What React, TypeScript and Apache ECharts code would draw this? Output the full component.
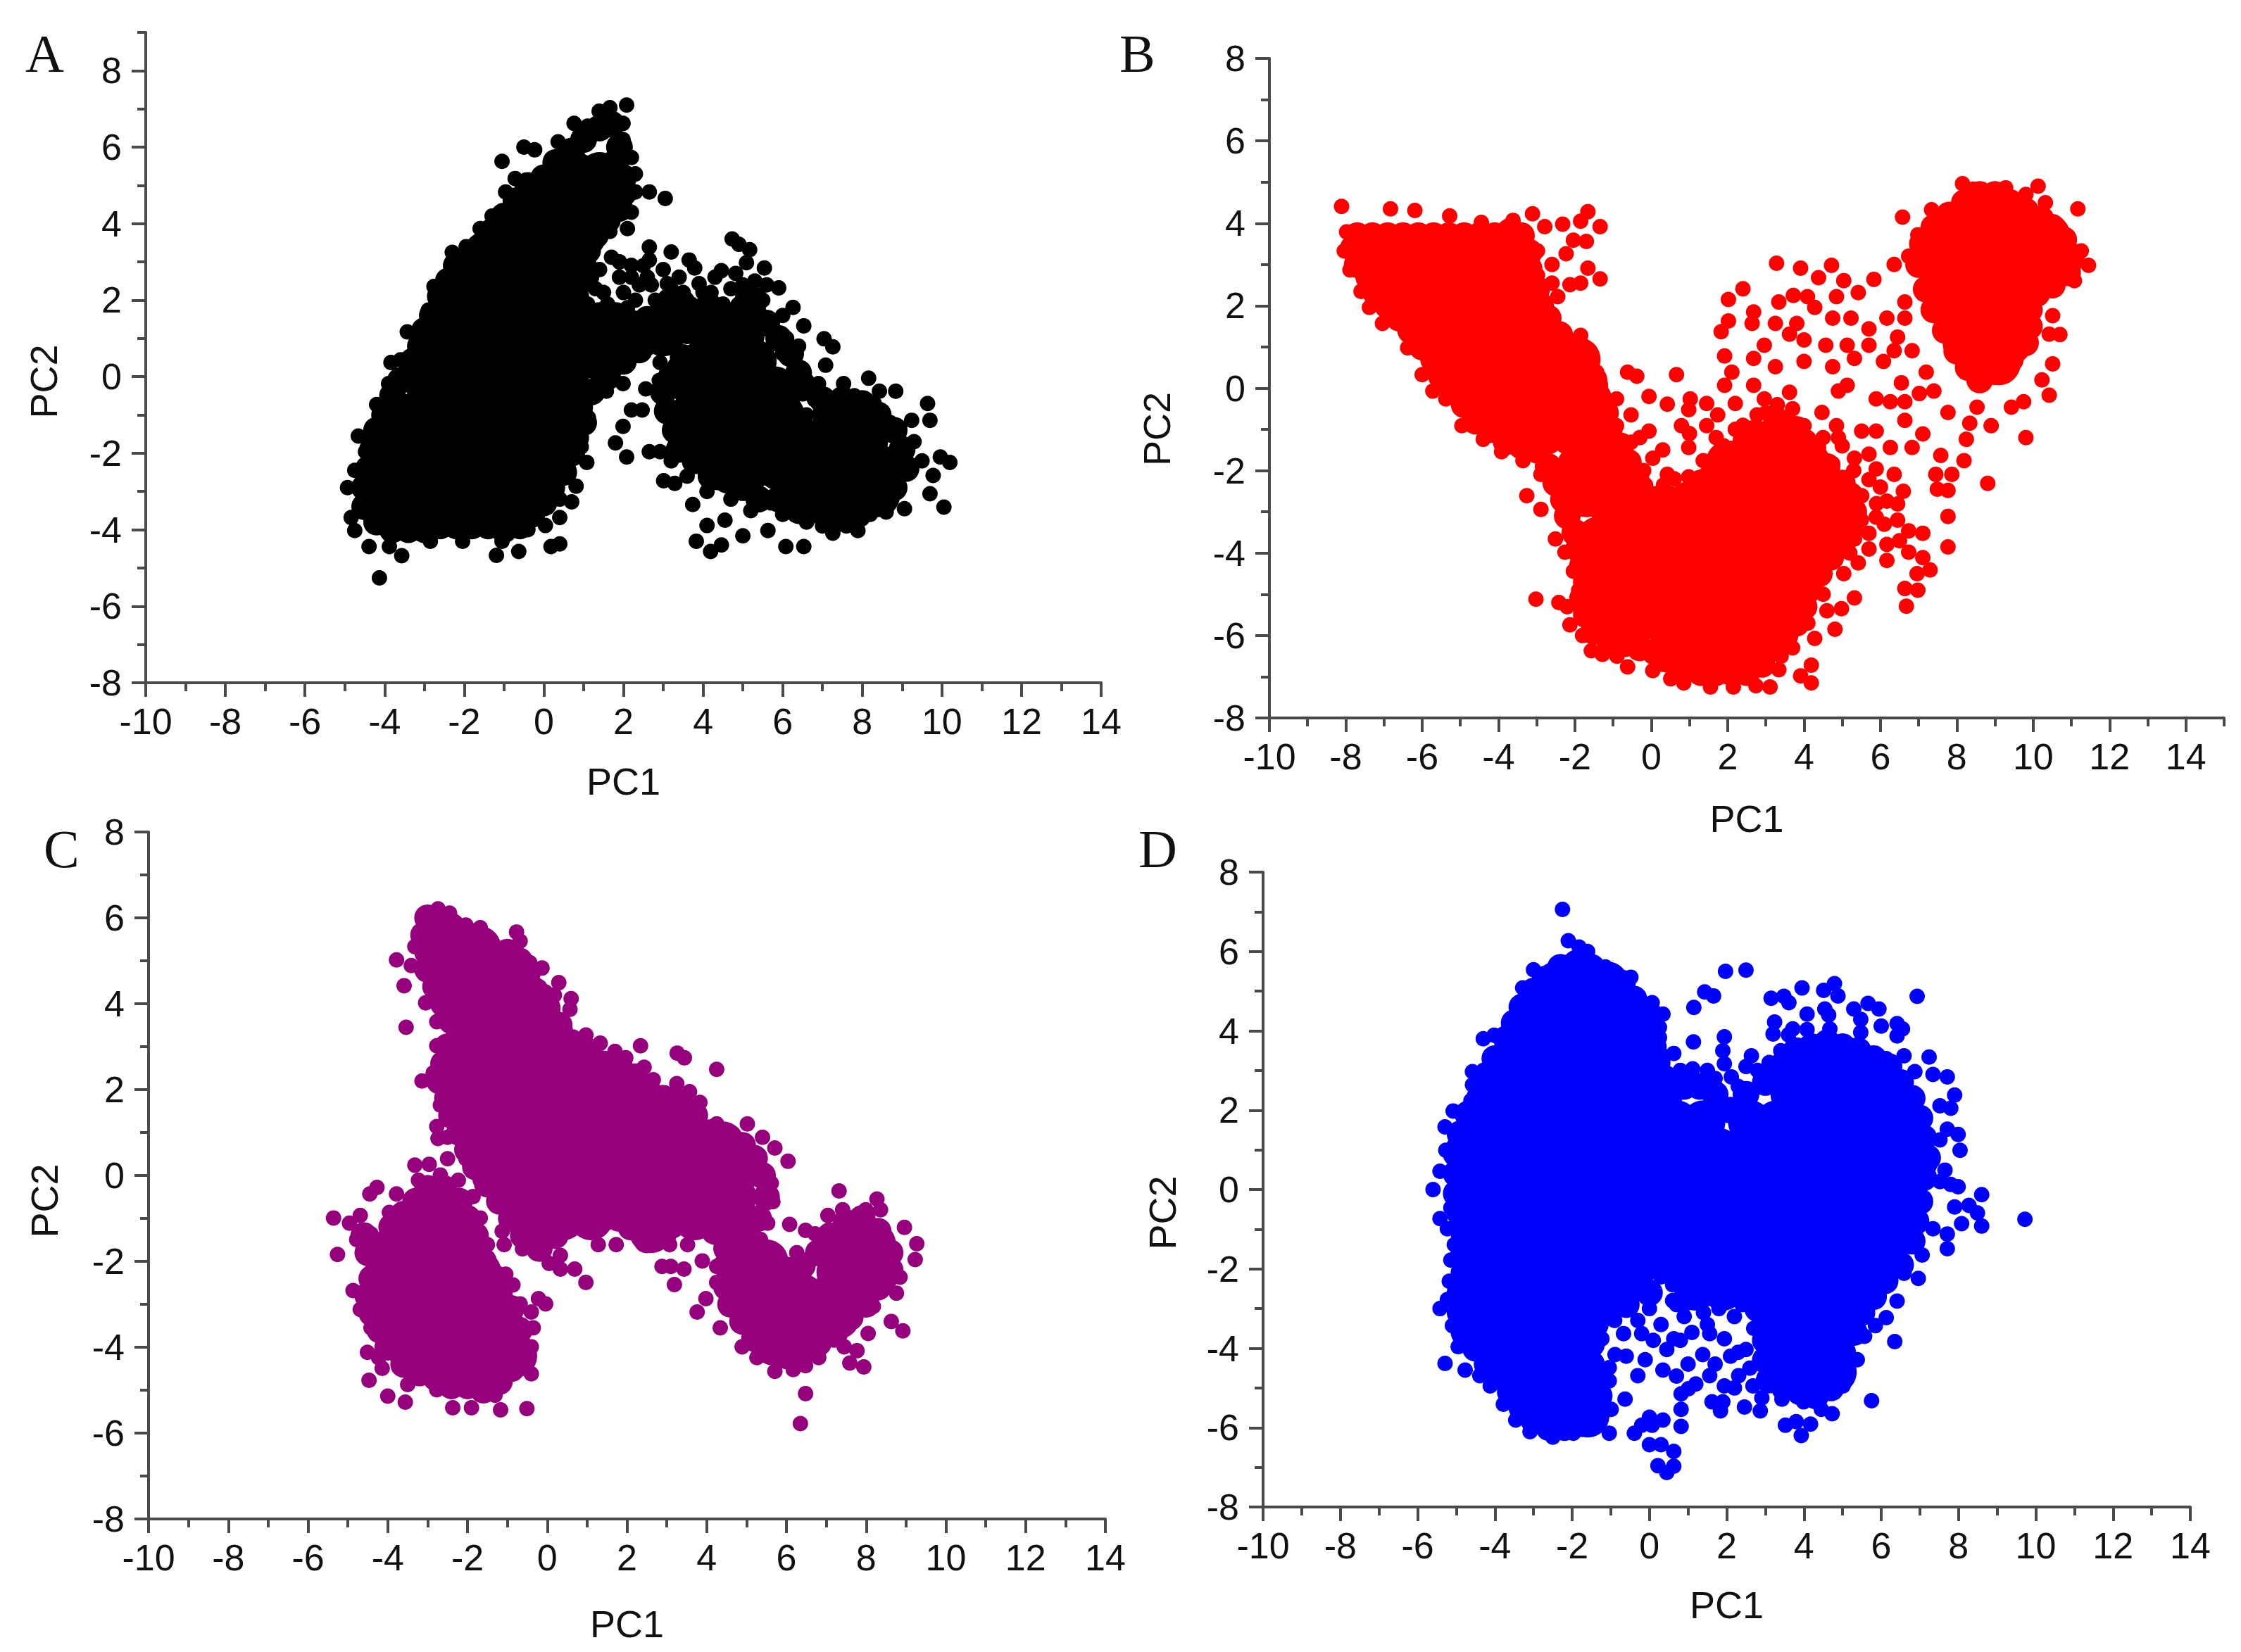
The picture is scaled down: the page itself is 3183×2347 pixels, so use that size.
import React, { useEffect, useRef } from "react";
import * as echarts from "echarts";

const FONT = "Liberation Sans";
const majorX = [-10, -8, -6, -4, -2, 0, 2, 4, 6, 8, 10, 12, 14];
const minorX = [-9, -7, -5, -3, -1, 1, 3, 5, 7, 9, 11, 13];
const minorXB = [-9, -7, -5, -3, -1, 1, 3, 5, 7, 9, 11, 13, 15];
const majorY = [-8, -6, -4, -2, 0, 2, 4, 6, 8];
const minorY = [-7, -5, -3, -1, 1, 3, 5, 7];
const minorYA = [-7, -5, -3, -1, 1, 3, 5, 7, 9];

type Row = [number, number[]];
const aDense: Row[] = [
  [5.3, [0.8, 1.4]], [4.6, [-0.2, 0.5, 1.2, 1.5]], [3.9, [-0.7, 0, 0.7, 1]], [3.2, [-1.3, -0.6, 0.1, 0.6]],
  [2.5, [-1.8, -1.1, -0.4, 0.3]], [1.8, [-2.1, -1.4, -0.7, 0, 0.5, 3.3]], [1.1, [-2.4, -1.7, -1, -0.3, 0.4, 1.1, 1.8, 2.5, 3, 4.2, 5]],
  [0.4, [-2.7, -2, -1.3, -0.6, 0.1, 0.8, 1.5, 4, 4.7, 5.3]], [-0.3, [-2.9, -2.2, -1.5, -0.8, -0.1, 0.6, 3.8, 4.5, 5.2, 5.8]],
  [-1, [-3.3, -2.6, -1.9, -1.2, -0.5, 0.2, 3.7, 4.4, 5.2, 6, 7.3, 8]], [-1.7, [-3.7, -3, -2.3, -1.6, -0.9, -0.2, 0.1, 3.8, 4.6, 5.3, 6, 6.7, 7.4, 8.1]],
  [-2.4, [-4, -3.3, -2.6, -1.9, -1.2, -0.5, 0, 4.4, 5.2, 5.9, 6.6, 7.3, 8, 8.6]], [-3.1, [-4.1, -3.4, -2.7, -2, -1.3, -0.6, 6.4, 7.1, 7.8, 8.4]],
  [-3.5, [-3.9, -3.2, -2.5, -1.8, -1.1]],
];
const aEdge = [
  [-4.5,-3.4],[-4.5,-2.9],[-4.4,-2.4],[-4.3,-1.9],[-4.2,-1.4],[-4,-1],[-3.8,-0.5],[-3.6,-0.1],[-3.3,0.4],[-3.1,0.8],[-3,1.2],[-2.8,1.6],[-2.6,2.1],[-2.4,2.5],[-2.2,2.9],[-1.9,3],[-1.6,3.4],[-1.3,3.8],[-1,4.2],[-0.7,4.6],[-0.4,5],[0,5.2],[0.3,5.6],[0.7,5.9],[1,6.2],[1.4,6.5],[1.7,6.6],[1.9,6],[1.8,5.6],[2,5.2],[2,4.8],[1.9,4.4],[1.6,4.1],[1.3,3.7],[1.1,3.3],[1,2.9],[0.9,2.5],[0.8,2.1],
  [-4.2,-3.8],[-3.8,-4],[-3.4,-4],[-3,-4],[-2.6,-3.9],[-2.2,-3.9],[-1.8,-3.9],[-1.4,-3.9],[-1,-4],[-0.6,-3.9],[-0.3,-3.6],[0,-3.3],[0.2,-2.9],[0.5,-2.5],[0.7,-2],[0.8,-1.6],[1,-1.2],[0.9,-0.8],[1.2,-0.4],[1.6,0],[2,0.4],[2.4,0.7],[2.8,1],[3.2,1.3],[3.6,1.2],[3.4,1.8],[3,1.7],[2.6,1.5],[2.2,1.4],[1.8,1.6],[1.4,1.6],[1,1.7],
  [3.8,1.2],[4.2,1.8],[4.6,1.6],[5,1.8],[5.3,2],[5.6,1.4],[5.9,1],[6.2,0.6],[6.4,0.1],[6.5,-0.3],[7,-0.6],[7.5,-0.6],[8,-0.7],[8.4,-1],[8.8,-1.4],[9,-1.9],[9.1,-2.4],[8.8,-2.9],[8.4,-3.3],[7.9,-3.6],[7.4,-3.7],[6.9,-3.5],[6.4,-3.5],[5.9,-3.2],[5.4,-3.2],[5,-2.9],[4.6,-2.7],[4.2,-2.6],[3.8,-2.2],[3.4,-1.9],[3.3,-1.4],[3.1,-0.9],[3,-0.4],[3.2,0],[3.5,0.5],
];
const aPoints = [
  [2.08,7.1],[1.66,7.03],[1.39,6.94],[1.99,6.62],[0.76,6.62],[1.1,6.55],[0.36,6.14],[1.99,6.2],[-0.5,6],[-0.23,5.93],[0.2,5.7],[-1.05,5.63],[-0.72,5.18],[2.2,5.73],[2.3,5.3],[2.65,4.83],[3.05,4.66],[2.3,4.83],[2.2,4.3],[2.1,3.87],[1.66,3.8],[1.3,3.46],[-0.96,4.83],[-1.3,4.2],[-1.6,3.87],[-1.95,3.4],[-2.3,3.25],[-2.76,2.36],[-2.9,1.74],[-3.43,1.17],[-3.6,0.44],[-3.84,0.37],[-3.9,-0.18],[-4.2,-0.73],[-4.66,-1.55],[-4.48,-1.96],[-4.75,-2.45],[-4.93,-2.9],[-4.84,-3.68],[-4.75,-4.02],[-4.39,-4.44],[-3.88,-4.44],[-3.57,-4.68],[-4.13,-5.26],[-2.85,-4.3],[-2.04,-4.3],[-1.19,-4.67],[-0.63,-4.57],[-1.05,-4.3],[0.18,-4.44],[0.4,-4.37],[-0.4,-4],[0.04,-3.89],[0.4,-3.68],[0.7,-3.27],[0.81,-2.86],[0.4,-3.2],[1.08,-2.24],[0.94,-1.83],[1.12,-1.07],[1.8,-1.73],[2.08,-2.1],[2.65,-1.96],[1.99,-1.3],[2.2,-0.87],[1.57,-0.38],[1.99,-0.18],
  [1.7,3.12],[2.65,3.39],[3.2,3.26],[2.65,3.05],[2.2,2.91],[3.65,3.05],[3.79,2.84],[3.1,2.43],[3.9,2.43],[4.73,3.6],[4.9,3.46],[5.17,3.32],[4.46,2.77],[4.82,2.7],[5.54,2.84],[5.09,2.98],[5.9,2.32],[6.26,1.81],[6.53,1.33],[7.04,0.99],[7.26,0.78],[7.08,0.3],[6.9,-0.18],[7.53,-0.18],[8.16,-0.04],[8.43,-0.38],[8.84,-0.38],[9.64,-0.7],[9.7,-1.14],[9.24,-1.14],[9.96,-2.1],[10.2,-2.24],[9.78,-2.58],[9.7,-3.06],[10.05,-3.41],[9.06,-3.45],[8.6,-3.54],[7.89,-4.02],[7.26,-4.09],[6.53,-4.44],[6.08,-4.44],[5.63,-4.02],[5,-4.16],[4.46,-4.4],[4.19,-4.57],[3.83,-4.3],[4.1,-3.89],[4.55,-3.75],[3.74,-3.34],[3.01,-2.72],[3.29,-2.79],[2.92,-1.96],[2.47,-0.87],[2.92,0.37],[2.56,-0.32],
  [1.2,2.6],[1.5,2.2],[1.9,2.6],[2.4,2.4],[2.1,1.8],[2.8,2],[3.3,1.9],[3.7,1.9],[1.1,1.9],[2.5,2.9],[3.2,2.3],[4.2,2.2],[4.5,1.9],[5,2.4],[5.3,2.5],[5.5,2],[5.7,1.5],[6,1.6],[6.1,1],[6.4,0.8],[6.5,0.2],[6.2,-0.3],[6.8,-0.6],[5,1.9],
  [3.2,-1.3],[3.2,-2.2],[3.6,-2.6],[4.1,-3],[4.7,-3.2],[5.2,-3.5],[5.7,-3.3],[6,-3.6],[6.6,-3.8],[7,-3.9],[7.6,-3.9],[8.2,-3.6],[8.8,-3],[9.2,-2.5],[9,-1.8],[8.7,-1.2],[8.3,-0.7],[7.8,-0.5],[9.3,-1.7],[9.5,-2.2],[8.9,-2.2],[7,-0.9],[6.6,-1],[3.4,-0.4],[3,-0.8],
  [1.3,2.3],[1.6,1.9],[2,2.2],[2.3,2],[2.7,2.4],[3,2.8],[3.4,2.6],[1.4,2.8],[1.9,3],[2.2,2.6],[3.5,2.2],[4,1.9],[4.3,2.6],[4.7,2.3],[5,2.1],[5.4,1.7],[5.7,1.2],[6,0.6],[6.3,0.3],[6.6,-0.1],[3.3,0.3],[2.9,-0.1],[6.4,-1.2],[3.8,1.6],[4,2.2],[5.2,2.2],[5.6,2.4],[2.6,2.6],[3.1,2],
];

const bDense: Row[] = [
  [3.3, [-7.2, -6.5, -5.8, -5.1, -4.4, -3.7]], [2.65, [-6.8, -6.1, -5.4, -4.7, -4, -3.5]], [2, [-6.3, -5.6, -4.9, -4.2, -3.5, -3.2]],
  [1.35, [-5.7, -5, -4.3, -3.6, -2.9]], [0.7, [-5.2, -4.5, -3.8, -3.1, -2.4, -1.9]], [0.05, [-4.7, -4, -3.3, -2.6, -2, -1.7]],
  [-0.6, [-4.3, -3.6, -2.9, -2.2, -1.6]], [-1.1, [-3.5, -2.8, -2.1, -1.5]], [-1.9, [-1.9, -1.2]], [-2.6, [-1.7, -1.1]],
  [-1.3, [2.7, 3.4]], [-1.8, [2, 2.6, 3.2, 3.8]], [-2.4, [1.6, 2.3, 3, 3.7, 4.4]], [-3, [-1, -0.3, 0.4, 1.1, 1.8, 2.5, 3.2, 3.9, 4.6]],
  [-3.65, [-1.4, -0.7, 0, 0.7, 1.4, 2.1, 2.8, 3.5, 4.2, 4.6]], [-4.3, [-1.4, -0.7, 0, 0.7, 1.4, 2.1, 2.8, 3.5, 4]],
  [-4.95, [-1.5, -0.8, -0.1, 0.6, 1.3, 2, 2.7, 3.4, 3.7]], [-5.6, [-1.2, -0.5, 0.2, 0.9, 1.6, 2.3, 3, 3.4]], [-6.2, [0.6, 1.3, 2, 2.7]], [-6.5, [1.2, 1.9, 2.5]],
  [4.3, [8.6, 9.3]], [3.7, [7.9, 8.6, 9.3, 10, 10.4]], [3.05, [7.5, 8.2, 8.9, 9.6, 10.3, 10.7]], [2.4, [7.7, 8.4, 9.1, 9.8]], [1.75, [8, 8.7, 9.4]], [1.1, [8.2, 8.9, 9.4]], [0.6, [8.6, 9.1]],
];
const bEdge = [
  [-7.7,3.7],[-7.3,3.7],[-6.9,3.7],[-6.5,3.7],[-6.1,3.7],[-5.7,3.7],[-5.3,3.7],[-4.9,3.7],[-4.5,3.7],[-4.1,3.7],[-3.7,3.8],[-3.4,3.7],[-3.2,3.3],[-3.2,2.9],[-3,2.4],[-2.9,2],[-2.7,1.7],[-2.4,1.3],[-2,1],[-1.7,0.6],[-1.5,0.2],[-1.4,-0.2],[-1.2,-0.6],[-1.1,-1],[-0.8,-1.4],[-0.6,-1.8],[-0.4,-2.2],
  [-7.8,3.4],[-7.7,3],[-7.4,2.7],[-7.2,2.3],[-6.9,2],[-6.6,1.7],[-6.3,1.4],[-6,1],[-5.7,0.7],[-5.5,0.3],[-5.2,0],[-4.9,-0.4],[-4.6,-0.8],[-4.2,-1],[-3.8,-1.3],[-3.4,-1.4],[-3,-1.5],[-2.7,-1.9],[-2.5,-2.3],[-2.3,-2.7],[-2.2,-3.1],[-2,-3.5],[-1.9,-3.9],[-1.8,-4.3],[-1.7,-4.7],[-1.8,-5.1],[-1.7,-5.5],[-1.5,-5.9],[-1.1,-6.1],[-0.7,-6.2],[-0.3,-6.3],[0.1,-6.4],[0.5,-6.6],[0.9,-6.8],[1.3,-6.9],[1.7,-6.9],[2.1,-6.9],[2.5,-6.9],[2.9,-6.7],[3.2,-6.3],[3.5,-6],[3.8,-5.7],[4,-5.3],[4.1,-4.9],[4.4,-4.5],[4.7,-4.1],[5,-3.8],[5.2,-3.4],[5.3,-3],[5.2,-2.6],[5,-2.3],[4.6,-1.9],[4.3,-1.7],[4,-1.3],[3.8,-1],[3.5,-0.9],[3.2,-1],[2.8,-1.2],[2.5,-1.5],[2.1,-1.6],[1.7,-1.9],[1.3,-2.3],[0.9,-2.6],[0.5,-2.7],[0.1,-2.7],[-0.3,-2.6],[-0.7,-2.5],
  [7,3],[7.1,3.5],[7.4,3.9],[7.8,4.2],[8.2,4.5],[8.6,4.7],[9,4.7],[9.4,4.5],[9.8,4.3],[10.2,4.1],[10.5,3.9],[10.8,3.6],[11,3.2],[10.9,2.8],[10.5,2.5],[10.1,2.3],[9.9,1.9],[9.9,1.5],[9.8,1.1],[9.4,0.7],[9,0.4],[8.6,0.2],[8.3,0.5],[8,0.9],[7.7,1.4],[7.4,1.9],[7.2,2.4],
];
const bPoints = [
  [-8.11,4.41],[-6.83,4.35],[-6.19,4.31],[-5.28,4.18],[-4.45,4.02],[-3.62,4.07],[-3.11,4.23],[-1.66,4.28],[-1.85,4.05],[-1.34,3.92],[-2.79,3.92],[-2.32,3.98],[-2.04,3.59],[-1.7,3.56],[-2.23,3.26],[-2.98,3.33],[-2.6,3],[-1.66,2.91],[-1.34,2.65],[-1.85,2.55],[-2.13,2.51],[-2.98,2.74],[-2.6,2.55],[-2.89,2.28],[-2.45,2.22],[-2.79,1.89],[-1.85,1.28],[-2.7,1.44],
  [-8.04,3.33],[-7.98,3.79],[-7.89,2.87],[-7.6,2.35],[-7.04,1.57],[-7.38,1.96],[-6.38,0.98],[-6,0.33],[-5.72,-0.07],[-5.38,-0.26],[-4.96,-0.91],[-4.4,-1.24],[-3.92,-1.54],[-3.36,-1.76],[-3.26,-2.61],[-2.89,-2.94],[-2.89,-2.09],[-2.51,-3.66],[-2.26,-3.98],[-2.04,-4.44],[-3.02,-5.12],[-2.42,-5.2],[-2.13,-5.74],[-1.57,-6.37],[-1.28,-6.46],[-0.62,-6.76],[0.04,-6.85],[0.51,-7.05],[0.85,-7.15],[1.55,-7.25],[2.15,-7.25],[2.74,-7.22],[3.11,-7.25],[3.34,-6.83],[3.91,-6.98],[4.19,-7.15],[4.19,-6.72],[4.28,-6.07],[4.81,-5.85],[4.98,-5.35],[5.32,-5.09],[5.04,-4.5],[5.42,-4.24],[6.17,-4.18],[6.64,-4.86],[6.68,-5.29],[6.98,-4.9],[6.96,-4.5],[7.3,-4.41],[7.11,-4.11],[6.74,-3.98],[7.11,-3.52],[6.74,-3.46],[7.77,-3.85],[7.77,-3.11],[7.77,-2.48],[7.49,-2.45],[7.45,-2.09],[7.87,-2.09],[8.19,-1.76],[8.81,-2.31],[8.25,-1.24],[7.58,-1.63],[8.9,-0.91],[9.81,-1.2],[9.43,-0.46],[9.75,-0.33],[10.42,-0.17],[10.23,0.2],[10.51,0.59],[10.42,1.31],[10.51,1.76],[10.7,1.3],
  [8.15,4.96],[8.43,4.83],[9.28,4.86],[9.81,4.7],[10.13,4.9],[10.32,4.5],[11.17,4.35],[11.45,2.98],[11.26,3.33],[11.08,2.61],[7.34,4.33],[6.58,4.15],[6.98,3.72],[6.36,3],[6.74,3.2],[6.64,2.09],[6.17,1.7],[6.64,1.7],[6.45,1.24],[6.83,0.91],[7.2,0.39],[6.55,0.13],[7.02,-0.13],[7.4,-0.07],[7.77,-0.59],[8.34,-0.85],[8.53,-0.46],
  [3.28,3.03],[3.91,2.91],[4.72,2.98],[4.38,2.68],[5.04,2.61],[5.83,2.64],[5.42,2.32],[4.85,2.22],[3.72,2.25],[2.4,2.41],[2.02,2.15],[2.68,1.85],[2.02,1.63],[2.64,1.57],[1.83,1.37],[3.34,2.09],[3.25,1.57],[4.09,2.22],[4.28,1.96],[4.75,1.7],[5.23,1.7],[3.81,1.57],[2.96,1.04],[3.62,1.31],[4,1.17],[4.57,1.04],[5.13,1.04],[5.7,1.04],[6.08,0.65],[5.7,1.44],[6.36,0.91],[1.92,0.78],[2.11,0.39],[1.92,0.07],[2.68,0.72],[3.25,0.52],[4,0.65],[4.75,0.52],[5.32,0.72],[5.13,0.07],[4.9,-0.07],[2.68,0.07],[3.62,-0.1],[2.2,-0.37],[2.96,-0.26],[2.77,-0.65],[3.34,-0.65],[4,-0.91],[4.47,-0.59],[4.85,-0.91],[5.51,-1.04],[5.89,-0.26],[6.26,-0.33],[6.64,-0.33],[5.89,-1.04],[6.26,-1.44],[6.83,-1.44],[7.11,-1.11],[6.64,-0.78],
  [-1.43,0.39],[-0.62,0.39],[-0.38,0.29],[0.66,0.33],[-0.06,-0.2],[-0.91,-0.26],[0.42,-0.39],[1.02,-0.26],[0.98,-0.52],[1.45,-0.37],[1.74,-0.65],[1.45,-0.91],[-0.53,-0.65],[-0.06,-1.04],[0.79,-0.91],[-0.91,-0.91],[0.98,-1.44],[-0.53,-1.31],[0.04,-1.7],[1.36,-1.76],[0.42,-2.09],[0.98,-2.15],[-0.53,-2.09],[-0.15,-2.35],[-0.91,-2.41],[0.32,-2.35],
  [4.75,-1.83],[5.32,-1.7],[5.89,-1.96],[6.36,-2.09],[6.45,-2.81],[6.17,-2.74],[5.89,-3.13],[6.45,-3.2],[5.7,-3.52],[5.32,-3.66],[6.17,-3.79],[5.51,-2.61],[4.38,-1.44],[4,-1.44],[5.7,-2.22],
  [5,-1.4],[5.3,-2],[5.7,-1.6],[6,-2.4],[5.9,-2.8],[5.5,-3.2],[5.7,-3.9],[5.2,-4],[6.5,-3.7],[6.6,-2.5],[6.1,-3.3],[4.9,-1.2],[4.5,-1.2],[-1.9,-4.9],[-2.2,-5.3],[-1.8,-6],[-1.2,-6.3],[-0.9,-6.5],[0.3,-6.7],[3.4,-6.5],[3.7,-6.3],[4.1,-5.7],[4.5,-5],[4.6,-5.4],[-0.2,-2],[0.6,-2.2],[-0.9,-1.7],[-0.3,-1.2],[0.3,-1.5],[1,-1.1],[1.7,-1.2],[1.9,-1.4],[2.2,-1],[2.4,-0.9],[3,-0.6],[3.3,-0.4],[3.7,-0.5],[-0.7,-1.9],[-0.9,-1.3],
];

const cDense: Row[] = [
  [5.3, [-2.4, -1.7]], [4.65, [-2.3, -1.6, -0.9]], [4, [-2, -1.3, -0.6]], [3.35, [-1.7, -1, -0.3, 0.1]], [2.7, [-2, -1.3, -0.6, 0.1, 0.7]],
  [2.05, [-2.2, -1.5, -0.8, -0.1, 0.6, 1.3, 1.9]], [1.4, [-2, -1.3, -0.6, 0.1, 0.8, 1.5, 2.2, 2.9, 3.3]], [0.75, [-1.7, -1, -0.3, 0.4, 1.1, 1.8, 2.5, 3.2, 3.9, 4.4]],
  [0.1, [-1.3, -0.6, 0.1, 0.8, 1.5, 2.2, 2.9, 3.6, 4.3, 4.8]], [-0.5, [-0.8, -0.1, 0.6, 1.3, 2, 2.7, 3.4, 4.1, 4.7]], [-1, [-3.2, -2.8, -0.3, 0.4, 1.1, 2.3, 3, 3.7, 4.4]], [-1.3, [2.6, 4.6]],
  [-1.6, [-3.6, -2.9, -2.2, 7.6, 8.2]], [-2.25, [-3.7, -3, -2.3, -1.7, 7.3, 7.9, 8.3]], [-2.9, [-4.1, -3.4, -2.7, -2, -1.4]], [-3.55, [-3.9, -3.2, -2.5, -1.8, -1.1]],
  [-4.2, [-3.4, -2.7, -2, -1.3, -0.8]], [-4.6, [-2.6, -1.9, -1.4]], [-2, [5, 5.5]], [-2.8, [5, 5.7, 6.4, 7.1, 7.7]], [-3.3, [5.5, 6.2, 6.9, 7.3]], [-3.8, [6, 6.6]],
];
const cEdge = [
  [-3,6],[-2.7,5.9],[-2.4,5.8],[-2,5.6],[-1.7,5.4],[-1.4,5.2],[-1,5.2],[-0.7,5],[-0.5,4.7],[-0.3,4.3],[0,3.9],[0.3,3.5],[0.6,3.1],[1,2.9],[1.4,2.6],[1.8,2.6],[2.2,2.3],[2.5,2],[2.9,1.8],[3.3,1.7],[3.7,1.4],[4.1,1],[4.5,0.9],[4.9,0.7],[5.2,0.4],[5.4,0],[5.5,-0.5],[5.3,-1],[5.1,-1.5],[4.9,-1.8],
  [-3.1,5.6],[-3,5.2],[-3,4.8],[-2.8,4.4],[-2.6,4],[-2.4,3.6],[-2.2,3.3],[-2.5,3],[-2.6,2.6],[-2.7,2.2],[-2.5,1.8],[-2.4,1.4],[-2.2,1],[-2,0.6],[-1.8,0.2],[-1.5,-0.2],[-1.2,-0.6],[-0.9,-1],[-0.6,-1.4],[-0.2,-1.7],[0.2,-1.4],[0.6,-1.1],[1,-1.1],[1.4,-1],[1.8,-1],[2.1,-1.2],[2.5,-1.5],[2.9,-1.4],[3.3,-1],[3.7,-1],[4.2,-1.3],[4.5,-1.7],
  [-3.3,-0.6],[-3,-0.3],[-2.6,-0.3],[-2.2,-0.6],[-2,-1],[-1.8,-1.4],[-1.6,-2],[-1.3,-2.4],[-1.2,-2.8],[-0.9,-3.1],[-0.7,-3.6],[-0.7,-4],[-0.9,-4.5],[-1.2,-4.8],[-1.6,-5],[-2,-4.9],[-2.4,-4.9],[-2.8,-4.7],[-3.2,-4.6],[-3.6,-4.4],[-4,-4],[-4.2,-3.6],[-4.4,-3.2],[-4.5,-2.8],[-4.4,-2.4],[-4.2,-2],[-4.1,-1.6],[-3.9,-1.2],[-3.6,-0.9],[-4.6,-1.4],[-4.5,-1.8],
  [4.5,-2.1],[4.5,-2.6],[4.6,-3],[4.9,-3.4],[5.2,-3.8],[5.6,-4.1],[6,-4.2],[6.4,-4.1],[6.8,-3.9],[7.2,-3.7],[7.6,-3.3],[8,-3],[8.3,-2.6],[8.6,-2.2],[8.6,-1.8],[8.3,-1.3],[7.9,-1],[7.5,-1.1],[7.1,-1.4],[6.8,-1.8],[6.4,-2.1],[6,-2.2],[5.6,-2.1],
];
const cPoints = [
  [-2.74,6.21],[-3.05,6.08],[-2.45,6.11],[-2.04,5.83],[-1.68,5.77],[-1.53,5.52],[-0.77,5.67],[-0.68,5.46],[-1.09,5.21],[-0.44,4.96],[-0.13,4.83],[0.29,4.49],[-0.04,4.27],[0.6,4.12],[0.57,3.87],[0.18,4.2],[-3.78,5.02],[-3.41,4.89],[-3.32,5.33],[-3.59,4.42],[-3.54,3.45],[-3.05,4.02],[-2.77,3.58],[-3.14,4.77],
  [-2.77,3.02],[-2.41,3.14],[-3.14,2.2],[-2.86,2.39],[-2.68,1.64],[-2.77,1.14],[-2.74,0.86],[-2.5,0.89],[0.97,3.27],[1.33,3.08],[1.7,2.89],[2.34,3.02],[1.97,2.74],[2.43,2.52],[2.66,2.23],[3.26,2.85],[3.44,2.74],[4.25,2.47],[3.25,2.14],[3.57,1.95],[3.83,1.7],[4.25,1.2],[5.02,1.2],[5.4,0.89],[5.71,0.64],[6.04,0.33],[5.62,-0.18],[5.66,-0.61],[5.53,-1.11],[6.08,-1.14],[6.48,-1.28],[5.62,-1.86],[5.35,-1.49],
  [1.28,-1.61],[1.73,-1.61],[0.97,-2.49],[0.69,-2.18],[0.33,-2.18],[0.05,-2.05],[0.33,-1.86],[2.43,-1.61],[2.88,-2.12],[3.1,-2.12],[3.19,-2.54],[3.43,-2.18],[3.07,-1.61],[3.52,-1.61],[3.89,-1.99],[3.76,-3.18],[3.98,-2.87],[4.34,-3.55],[4.25,-2.49],[4.25,-2.12],[4.89,-3.99],[5.26,-4.24],[5.71,-4.56],[6.17,-4.52],[6.48,-4.43],[6.48,-5.08],[6.35,-5.78],[6.81,-4.24],[7.45,-3.99],[7.59,-4.37],[7.77,-4.08],[7.94,-4.46],[8.05,-3.68],[8.63,-3.4],[8.92,-3.62],[8.76,-2.74],[8.85,-2.37],[9.23,-1.96],[9.27,-1.59],[8.96,-1.21],[8.27,-0.55],[7.32,-0.36],[7.04,-0.93],[7.41,-0.8],[6.72,-1.36],[6.26,-1.8],[7.26,-3.49],[8.18,-3.05],[6.35,-4],[8.36,-0.8],[7.99,-0.8],
  [-5.36,-0.99],[-5.26,-1.84],[-4.96,-1.11],[-4.69,-0.93],[-4.45,-0.43],[-4.27,-0.28],[-4.87,-2.68],[-4.69,-3.12],[-4.42,-3.55],[-4.51,-4.12],[-4.23,-4.24],[-4.14,-4.49],[-4.47,-4.77],[-4,-5.14],[-3.56,-5.28],[-3.5,-4.87],[-2.37,-5.41],[-1.9,-5.41],[-1.17,-5.46],[-0.51,-5.43],[-0.4,-4.62],[-0.68,-4.24],[-0.4,-3.99],[-0.35,-3.55],[-0.4,-3.18],[-0.22,-2.87],[-0.04,-2.99],[-0.68,-2.99],[-0.86,-2.55],[-1.04,-2.3],[-1.13,-1.3],[-1.08,-1.61],[-0.62,-1.71],[-1.5,-1.61],[-1.68,-0.99],[-1.86,-0.49],[-3.32,0.24],[-2.96,0.26],[-2.5,0.39],[-2.68,0.01],[-2.04,0.39],[-2.23,-0.11],[-3.78,-0.43],[-3.23,-0.11],[-3.96,-0.86],[-4.42,-1.36],[-4.78,-1.49],[-4.42,-2.24],[-1.68,-0.11],[-1.31,-5.12],[-2.77,-4.99],
];

const dDense: Row[] = [
  [5.2, [-2.4, -1.7, -1.1]], [4.5, [-2.9, -2.2, -1.5, -0.8]], [3.8, [-3.1, -2.4, -1.7, -1, -0.4]], [3.1, [-3.5, -2.8, -2.1, -1.4, -0.7, -0.2, 4, 4.7, 5.4]],
  [2.4, [-3.9, -3.2, -2.5, -1.8, -1.1, -0.4, 0.3, 3.7, 4.4, 5.1, 5.8, 6.2]], [1.7, [-4.2, -3.5, -2.8, -2.1, -1.4, -0.7, 0, 0.7, 1.4, 2.6, 3.3, 4, 4.7, 5.4, 6.1, 6.5]],
  [1, [-4.5, -3.8, -3.1, -2.4, -1.7, -1, -0.3, 0.4, 1.1, 1.8, 2.5, 3.2, 3.9, 4.6, 5.3, 6, 6.6]],
  [0.3, [-4.6, -3.9, -3.2, -2.5, -1.8, -1.1, -0.4, 0.3, 1, 1.7, 2.4, 3.1, 3.8, 4.5, 5.2, 5.9, 6.7]],
  [-0.4, [-4.4, -3.7, -3, -2.3, -1.6, -0.9, -0.2, 0.5, 1.2, 1.9, 2.6, 3.3, 4, 4.7, 5.4, 6.1, 6.6]],
  [-1.1, [-4.4, -3.7, -3, -2.3, -1.6, -0.9, -0.2, 0.5, 1.2, 1.9, 2.6, 3.3, 4, 4.7, 5.4, 6.1, 6.5]],
  [-1.8, [-4.4, -3.7, -3, -2.3, -1.6, -0.9, -0.2, 0.5, 1.2, 1.9, 2.6, 3.3, 4, 4.7, 5.4, 6]],
  [-2.5, [-4.5, -3.8, -3.1, -2.4, -1.7, -0.8, 1.2, 1.9, 2.6, 3.3, 4, 4.7, 5.3]],
  [-3.2, [-4.4, -3.7, -3, -2.3, -1.7, 3.2, 3.9, 4.6, 5]], [-3.9, [-3.9, -3.2, -2.5, -1.9, 3.5, 4.2, 4.7]], [-4.6, [-3.4, -2.7, -2, 3.5, 4.2, 4.8]],
  [-5.3, [-3, -2.3, -1.7]], [-5.7, [-2.6, -2, -1.6]],
];
const dEdge = [
  [-3.3,4.6],[-3,5],[-2.7,5.3],[-2.3,5.6],[-1.9,5.7],[-1.5,5.6],[-1.1,5.4],[-0.7,5.2],[-0.4,4.8],[0,4.4],[0,4],[0.1,3.6],[0.2,3.2],[0.4,2.8],[0.9,2.6],[1.3,2.6],[1.7,2.4],[2.1,2],[2.5,2.4],[3,2.7],[3.4,3.1],[3.8,3.5],[4.2,3.6],[4.6,3.7],[5,3.6],[5.4,3.5],[5.8,3.3],[6.2,3.1],[6.5,2.7],[6.8,2.3],[7,1.8],[7.1,1.3],[7.2,0.8],[7.1,0.3],[7,-0.3],[6.9,-0.8],[6.8,-1.3],[6.5,-1.9],[6.1,-2.3],[5.8,-2.7],[5.5,-3.1],[5.3,-3.6],[5,-4.1],[5,-4.6],[4.7,-5],[4.3,-5.2],[3.9,-5.1],[3.5,-5],[3.1,-4.8],[3,-4.3],[3,-3.8],[2.8,-3],
  [-3.5,4.2],[-3.7,3.8],[-4,3.3],[-4.2,2.8],[-4.4,2.3],[-4.7,1.9],[-4.9,1.4],[-5,0.9],[-5,0.4],[-5,-0.1],[-4.9,-0.6],[-4.8,-1.1],[-4.8,-1.6],[-4.8,-2.1],[-4.9,-2.6],[-4.9,-3.1],[-4.8,-3.6],[-4.5,-4],[-4.2,-4.4],[-3.9,-4.7],[-3.6,-5.1],[-3.3,-5.5],[-3,-5.8],[-2.6,-6],[-2.2,-6],[-1.8,-5.9],[-1.5,-5.6],[-1.3,-5.2],[-1.4,-4.8],[-1.5,-4.4],[-1.5,-3.9],[-1.4,-3.4],[-1.1,-3.1],[-0.6,-2.9],[0,-2.6],
];
const dPoints = [
  [-2.25,7.06],[-2.1,6.27],[-1.82,6.11],[-1.6,6],[-3,5.54],[-3.28,5.08],[-1.14,5.61],[-0.48,5.35],[0.07,4.71],[0.35,4.42],[0.26,4.09],[0.26,3.83],[1.15,4.59],[1.43,4.98],[1.66,4.88],[1.97,5.5],[2.5,5.53],[1.14,3.72],[1.94,3.85],[1.9,3.5],[1.94,3.17],[1.12,3.04],[0.63,3.43],[0.35,3.37],
  [3.15,4.82],[3.48,4.87],[3.61,4.71],[3.95,5.08],[4.51,5.02],[4.79,5.19],[4.88,4.88],[5.29,4.55],[5.66,4.69],[5.94,4.55],[6.93,4.87],[5.47,4.29],[6,4.12],[5.47,3.96],[6.41,4.18],[6.55,4.05],[6.41,3.87],[7.24,3.34],[4.54,4.55],[4.64,4.4],[4.08,4.42],[3.71,4.05],[4.08,4.03],[3.24,4.22],[3.2,3.92],[4.67,4.05],[2.12,2.84],[2.5,3.1],[2.64,3.37],[6.59,3.37],[6.13,3.3],[6.87,2.97],[7.71,2.84],[7.34,2.9],[7.9,2.38],[7.8,2.05],[7.52,2.11],[7.71,1.52],[7.99,1.39],[7.52,1.25],[8.04,0.99],[7.65,0.49],[7.8,0.13],[7.99,0.07],[7.24,0.59],[7.52,0.2],[7.9,-0.44],[8.6,-0.13],[8.27,-0.4],[8.49,-0.59],[8.6,-0.92],[8.08,-0.86],[7.71,-1.12],[9.72,-0.75],[7.71,-1.49],[7.34,-0.99],[7.06,-1.65],[6.96,-2.24],[6.59,-2.11],[6.41,-2.81],[5.85,-2.57],[6.13,-3.23],[5.85,-3.43],[6.35,-3.83],[5.57,-3.7],[5.38,-4.29],[5.01,-4.95],[5.75,-5.32],[4.73,-5.65],[4.45,-5.54],[4.17,-5.91],[3.93,-6.2],[3.52,-5.94],[3.8,-5.85],[2.87,-5.58],[2.91,-5.25],[2.46,-5.48],[1.84,-5.58],[1.9,-5.35],[1.62,-5.35],[1.94,-4.95],[1.56,-4.69],[1.01,-5.02],[0.82,-5.15],[0.82,-5.54],[0.82,-5.97],[0.35,-5.81],[0,-5.74],[0.07,-5.94],[-0.39,-6.14],[-0.2,-5.94],[0,-6.43],[0.3,-6.43],[0.63,-6.6],[0.22,-6.96],[0.45,-7.13],[0.63,-6.97],[-0.63,-5.28],[-0.99,-5.54],[-1.04,-6.14],[-1.38,-5.81],[-0.11,-4.29],[-0.3,-4.69],[0.35,-4.55],[-1.04,-4.49],[-0.89,-4.16],[-1.23,-3.76],[-1.51,-4.16],[-1.6,-4.82],[-1.04,-4.82],[-0.67,-3.63],[-0.2,-3.63],[0.63,-3.76],[1.56,-3.63],[1.94,-3.76],[2.5,-4.03],[1.38,-4.16],[0.45,-4.03],[2.31,-4.69],[2.68,-4.95],[3.43,-5.28],[3.99,-5.35],
  [-5.6,0],[-5.42,0.46],[-5.27,0.99],[-5.29,1.58],[-5.08,1.98],[-4.8,1.65],[-4.62,2.24],[-4.58,2.97],[-4.3,3],[-4.58,2.64],[-4.12,3.37],[-4.3,3.8],[-4.02,3.89],[-3.7,3.92],[-3.56,4.22],[-5.42,-0.73],[-5.23,-0.99],[-5.05,-1.39],[-5.14,-1.78],[-5.18,-2.31],[-5.42,-3],[-5.23,-2.77],[-5.1,-3.43],[-4.95,-3.96],[-5.29,-4.38],[-4.77,-4.55],[-4.39,-4.69],[-4.12,-4.95],[-3.78,-5.41],[-3.46,-5.81],[-3.09,-6.1],[-2.5,-6.24],[-1.97,-6.14],[-1.69,-5.87],[-5.14,-0.46],[-5.05,1.12],[-4.95,0.46],
  [0,-3],[0.6,-2.8],[-0.2,-2.4],[0.3,-2.2],[0.9,-3.2],[-0.5,-3],[-1.1,-3.1],[1.1,-3.6],[2.2,-3.2],[2.7,-3.5],[2.9,-4.2],[2.3,-4.1],[3,-4.7],
  [-0.3,-3.3],[0.3,-3.4],[0.8,-3.8],[1.4,-3.1],[1.8,-3],[2.4,-2.9],[0.9,-2.9],[0.1,-3.8],[-0.6,-4.2],[1,-4.4],[1.7,-4.4],[2.1,-4.2],[2.6,-4.5],[2.9,-3.6],[0.7,-4.7],[1.2,-4.9],[2.2,-5],[-0.9,-3.3],[-0.9,-2.8],[0.6,-2.4],[0.7,-2.9],[1.5,-3.4],[0.8,3],[1.5,3],[1.7,2.8],[2.3,2.6],[2.8,3],[3.1,3.2],[3.4,3.5],[3.6,3.9],
];

const panels = [
  { letter: "A", lx: 36, ly: 38, color: "#000000", dense: aDense, edge: aEdge, points: aPoints, left: 207, top: 46, right: 1564, bottom: 970, xMax: 14, yMax: 9, minorXs: minorX, minorYs: minorYA, xGap: 133, nameX: 71, nameShift: 68 },
  { letter: "B", lx: 1590, ly: 38, color: "#FF0000", dense: bDense, edge: bEdge, points: bPoints, left: 1803, top: 83, right: 3159, bottom: 1020, xMax: 15, yMax: 8, minorXs: minorXB, minorYs: minorY, xGap: 136, nameX: 1652, nameShift: 116 },
  { letter: "C", lx: 62, ly: 1168, color: "#96007D", dense: cDense, edge: cEdge, points: cPoints, left: 211, top: 1182, right: 1570, bottom: 2158, xMax: 14, yMax: 8, minorXs: minorX, minorYs: minorY, xGap: 142, nameX: 72, nameShift: 72 },
  { letter: "D", lx: 1617, ly: 1168, color: "#0000FF", dense: dDense, edge: dEdge, points: dPoints, left: 1794, top: 1239, right: 3111, bottom: 2141, xMax: 14, yMax: 8, minorXs: minorX, minorYs: minorY, xGap: 132, nameX: 1660, nameShift: 66 },
];

const LINE = "#4a4a4a";
const LABEL = { color: "#111", fontFamily: FONT, fontSize: 52 };

function buildOption() {
  const grid: any[] = [], xAxis: any[] = [], yAxis: any[] = [], series: any[] = [], graphic: any[] = [];
  panels.forEach((p, i) => {
    grid.push({ left: p.left, top: p.top, width: p.right - p.left, height: p.bottom - p.top });
    const xI = xAxis.length, yI = yAxis.length;
    const lineStyle = { color: LINE, width: 4 };
    xAxis.push({
      type: "value", gridIndex: i, min: -10, max: p.xMax, position: "bottom", splitLine: { show: false },
      name: "PC1", nameLocation: "middle", nameGap: p.xGap - 20, nameTextStyle: { ...LABEL, fontSize: 54 },
      axisLine: { show: true, onZero: false, lineStyle },
      axisTick: { show: true, length: 20, inside: false, customValues: majorX, lineStyle },
      axisLabel: { ...LABEL, margin: 29, customValues: majorX, hideOverlap: false },
    });
    xAxis.push({
      type: "value", gridIndex: i, min: -10, max: p.xMax, position: "bottom", splitLine: { show: false },
      axisLine: { show: false, onZero: false }, axisLabel: { show: false },
      axisTick: { show: true, length: 12, customValues: p.minorXs, lineStyle },
    });
    yAxis.push({
      type: "value", gridIndex: i, min: -8, max: p.yMax, position: "left", splitLine: { show: false },
      name: "PC2", nameLocation: "middle", nameGap: p.left - p.nameX - 18, nameTextStyle: { ...LABEL, fontSize: 54, padding: [0, p.nameShift, 0, 0] },
      axisLine: { show: true, onZero: false, lineStyle },
      axisTick: { show: true, length: 20, customValues: majorY, lineStyle },
      axisLabel: { ...LABEL, margin: 34, customValues: majorY, hideOverlap: false },
    });
    yAxis.push({
      type: "value", gridIndex: i, min: -8, max: p.yMax, position: "left", splitLine: { show: false },
      axisLine: { show: false, onZero: false }, axisLabel: { show: false },
      axisTick: { show: true, length: 12, customValues: p.minorYs, lineStyle },
    });
    const denseData = p.dense.flatMap(([y, xs]) => xs.map((x) => [x, y]));
    const base = { type: "scatter", xAxisIndex: xI, yAxisIndex: yI, silent: true, itemStyle: { color: p.color, opacity: 1 } };
    series.push({ ...base, data: denseData, symbolSize: 62 });
    series.push({ ...base, data: p.edge, symbolSize: 38 });
    series.push({ ...base, data: p.points, symbolSize: 22 });
    graphic.push({
      type: "text", left: p.lx, top: p.ly,
      style: { text: p.letter, fontFamily: "Liberation Serif", fontSize: 76, fill: "#111" },
    });
  });
  return { animation: false, backgroundColor: "#fff", grid, xAxis, yAxis, series, graphic };
}

export default function App() {
  const ref = useRef<HTMLDivElement>(null);
  useEffect(() => {
    const chart = echarts.init(ref.current!, undefined, { renderer: "svg" });
    chart.setOption(buildOption() as any);
    return () => chart.dispose();
  }, []);
  return <div ref={ref} style={{ position: "fixed", left: 0, top: 0, width: 3183, height: 2347 }} />;
}
